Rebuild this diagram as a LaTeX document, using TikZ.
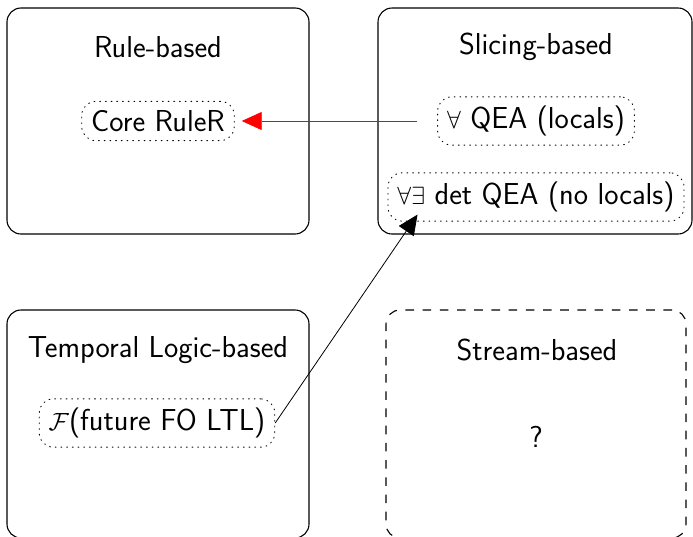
\documentclass[tikz,border=0pt]{standalone}
\usetikzlibrary{arrows.meta}
\begin{document}
\begin{tikzpicture}[x=1pt,y=-1pt,
  every node/.style={font=\sffamily\fontsize{30.3}{36}\selectfont},
  bigbox/.style={draw, line width=1.1pt, rounded corners=14pt, inner sep=0pt},
  dashbox/.style={bigbox, dash pattern=on 8.6pt off 8.6pt},
  item/.style={draw, line width=0.9pt, dash pattern=on 0.9pt off 4.8pt, line cap=round, rounded corners=14pt, inner xsep=9.5pt, inner ysep=9pt},
  plain/.style={inner sep=0pt},
  bigtip/.style={-{Triangle[length=20pt,width=18pt]}, line width=0.8pt}]
\useasboundingbox (0,0) rectangle (693,536);
% boxes
\node[bigbox, minimum width=302pt, minimum height=226pt] (rulebox) at (158,121) {};
\node[bigbox, minimum width=314pt, minimum height=226pt] (slicebox) at (535,121) {};
\node[bigbox, minimum width=302pt, minimum height=228pt] (tempbox) at (158,424) {};
\node[dashbox, minimum width=300pt, minimum height=228pt] (streambox) at (536,424) {};
% titles
\node[plain] (ruletitle) at (158,47) {Rule-based};
\node[plain] (slicetitle) at (536,47) {Slicing-based};
\node[plain] (temptitle) at (158,350) {Temporal Logic-based};
\node[plain] (streamtitle) at (537,350) {Stream-based};
% items
\node[item] (core) at (158,121) {Core RuleR};
\node[item] (forall) at (536,121) {$\forall$ QEA (locals)};
\node[item] (det) at (536,197) {$\forall\exists$ det QEA (no locals)};
\node[item] (fut) at (157,423) {$\mathcal{F}$(future FO LTL)};
\node[plain] (q) at (536,437) {?};
% connectors
\draw[bigtip, red, shorten <=20pt, shorten >=7pt] (forall.west) -- (core.east);
\coordinate (dettarget) at ([xshift=30pt,yshift=7pt]det.south west);
\draw[bigtip, black] (fut.east) -- (dettarget);
\end{tikzpicture}
\end{document}
